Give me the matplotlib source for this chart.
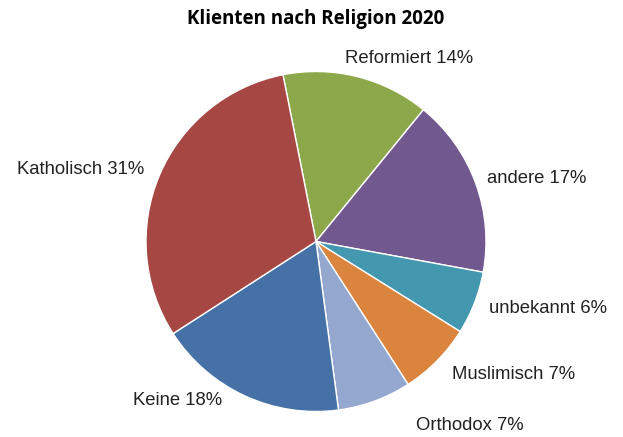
import matplotlib.pyplot as plt
import numpy as np

plt.rcParams['font.family'] = ['Liberation Sans', 'DejaVu Sans']

# religion breakdown, clockwise from the top
religions = ['Reformiert', 'andere', 'unbekannt', 'Muslimisch', 'Orthodox', 'Keine', 'Katholisch']
shares = [14, 17, 6, 7, 7, 18, 31]
colors = ['#8DA84B', '#71588F', '#4397AE', '#DB843D', '#94A8CF', '#4571A7', '#A64744']

# label anchors as (radius factor, angle in degrees)
label_pos = [(1.21, 63), (1.35, 16), (1.42, -16), (1.40, -34), (1.41, -50), (1.24, -131), (1.45, 163)]

W, H = 623, 437
cx, cy, R = 316, 241.5, 170

fig = plt.figure(figsize=(W / 100, H / 100), dpi=100, facecolor='white')
ax = fig.add_axes([0, 0, 1, 1])

ax.pie(shares, colors=colors, startangle=101.2, counterclock=False,
       wedgeprops=dict(edgecolor='white', linewidth=1))
ax.set_xlim(-cx / R, (W - cx) / R)
ax.set_ylim(-(H - cy) / R, cy / R)
ax.set_aspect('auto')
ax.axis('off')

for name, val, (r, a) in zip(religions, shares, label_pos):
    t = np.deg2rad(a)
    ax.text(r * np.cos(t), r * np.sin(t), f'{name} {val}%', ha='center', va='center',
            fontsize=13.3, color='#222222')

fig.text(0.5065, 1 - 19 / H, 'Klienten nach Religion 2020', ha='center', va='center',
         fontsize=13.5, fontweight='bold', family=['Open Sans', 'DejaVu Sans'], color='black')

fig.savefig('out.png', dpi=100, facecolor='white')
